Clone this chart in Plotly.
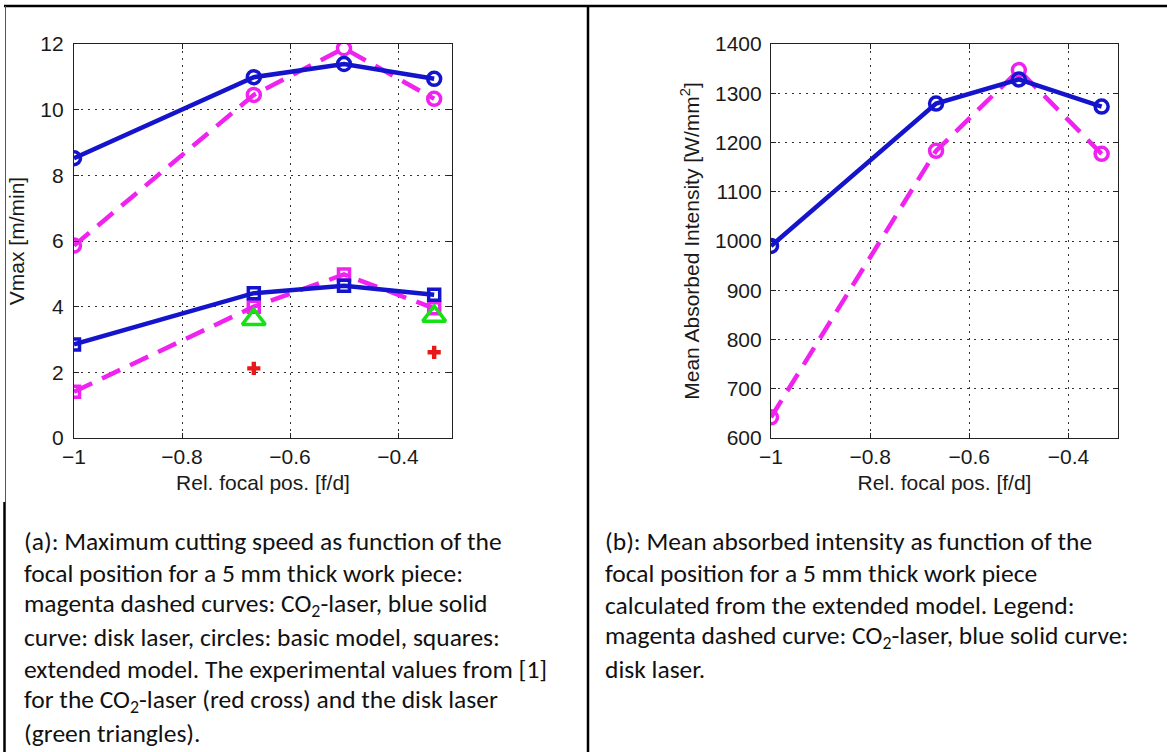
import plotly.graph_objects as go

W, H = 1167, 752

# ---------------- data ----------------
focal_pos = [-1.0, -0.667, -0.5, -0.333]
vmax_co2_basic = [5.86, 10.45, 11.87, 10.33]
vmax_disk_basic = [8.52, 10.99, 11.39, 10.94]
vmax_co2_ext = [1.41, 4.0, 4.98, 3.95]
vmax_disk_ext = [2.85, 4.41, 4.64, 4.36]
exp_pos = [-0.667, -0.333]
exp_disk = [3.61, 3.71]
exp_co2 = [2.12, 2.61]
intensity_co2 = [642, 1183, 1347, 1177]
intensity_disk = [990, 1279, 1328, 1273]

x_ticks = [-1.0, -0.8, -0.6, -0.4]
vmax_ticks = [0, 2, 4, 6, 8, 10, 12]
intensity_ticks = [600, 700, 800, 900, 1000, 1100, 1200, 1300, 1400]

caption_a = [
    "(a): Maximum cutting speed as function of the",
    "focal position for a 5 mm thick work piece:",
    "magenta dashed curves: CO<sub>2</sub>-laser, blue solid",
    "curve: disk laser, circles: basic model, squares:",
    "extended model. The experimental values from [1]",
    "for the CO<sub>2</sub>-laser (red cross) and the disk laser",
    "(green triangles).",
]
caption_b = [
    "(b): Mean absorbed intensity as function of the",
    "focal position for a 5 mm thick work piece",
    "calculated from the extended model. Legend:",
    "magenta dashed curve: CO<sub>2</sub>-laser, blue solid curve:",
    "disk laser.",
]

# ---------------- styles ----------------
BLUE = "#1414cc"
MAGENTA = "#f022f0"
GREEN = "#16e016"
RED = "#e81818"
AX_FONT = dict(family="Liberation Sans, Arial, Helvetica, sans-serif", size=21, color="#1a1a1a")
CAP_FONT = dict(family="Calibri, Carlito, Lato, 'Open Sans', sans-serif", size=25.5, color="#111111")


def px(x):
    return x / W


def py(y):
    return 1 - y / H


fig = go.Figure()


def line_trace(x, y, color, dash, symbol, size, xa, ya):
    return go.Scatter(
        x=x, y=y, mode="lines+markers",
        line=dict(color=color, width=4.5, dash=dash),
        marker=dict(symbol=symbol, size=size, color=color, line=dict(color=color, width=3.5)),
        xaxis=xa, yaxis=ya, showlegend=False, hoverinfo="x+y",
    )


DASH = "20px,11px"
# left panel
fig.add_trace(line_trace(focal_pos, vmax_co2_basic, MAGENTA, DASH, "circle-open", 13, "x", "y"))
fig.add_trace(line_trace(focal_pos, vmax_disk_basic, BLUE, "solid", "circle-open", 13, "x", "y"))
fig.add_trace(line_trace(focal_pos, vmax_co2_ext, MAGENTA, DASH, "square-open", 11, "x", "y"))
fig.add_trace(line_trace(focal_pos, vmax_disk_ext, BLUE, "solid", "square-open", 11, "x", "y"))
fig.add_trace(go.Scatter(
    x=exp_pos, y=exp_disk, mode="markers",
    marker=dict(symbol="triangle-up-open", size=20, color=GREEN, line=dict(color=GREEN, width=3.5)),
    xaxis="x", yaxis="y", showlegend=False))
fig.add_trace(go.Scatter(
    x=exp_pos, y=exp_co2, mode="markers",
    marker=dict(symbol="cross", size=11, color=RED, line=dict(width=0)),
    xaxis="x", yaxis="y", showlegend=False))

# right panel
fig.add_trace(line_trace(focal_pos, intensity_co2, MAGENTA, DASH, "circle-open", 13, "x2", "y2"))
fig.add_trace(line_trace(focal_pos, intensity_disk, BLUE, "solid", "circle-open", 13, "x2", "y2"))

axis_common = dict(
    showline=True, linecolor="#222222", linewidth=1.2, mirror="ticks",
    ticks="inside", ticklen=5, tickcolor="#222222", tickwidth=1,
    showgrid=True, gridcolor="#333333", gridwidth=1, griddash="2px,5px",
    zeroline=False, tickfont=AX_FONT, automargin=False,
)

fig.update_layout(
    width=W, height=H,
    margin=dict(l=0, r=0, t=0, b=0),
    paper_bgcolor="white", plot_bgcolor="white",
    showlegend=False,
    xaxis=dict(domain=[px(74), px(452)], range=[-1, -0.3], tickvals=x_ticks,
               title=dict(text="Rel. focal pos. [f/d]", font=AX_FONT, standoff=8),
               anchor="y", **axis_common),
    yaxis=dict(domain=[py(438), py(44)], range=[0, 12], tickvals=vmax_ticks, ticklabelstandoff=5,
               title=dict(text="Vmax [m/min]", font=AX_FONT, standoff=9),
               anchor="x", **axis_common),
    xaxis2=dict(domain=[px(771), px(1118)], range=[-1, -0.3], tickvals=x_ticks,
                title=dict(text="Rel. focal pos. [f/d]", font=AX_FONT, standoff=8),
                anchor="y2", **axis_common),
    yaxis2=dict(domain=[py(438), py(44)], range=[600, 1400], tickvals=intensity_ticks, ticklabelstandoff=4,
                title=dict(text="Mean Absorbed Intensity [W/mm<sup>2</sup>]", font=AX_FONT, standoff=9),
                anchor="x2", **axis_common),
)

# table borders
shapes = [
    dict(type="line", xref="paper", yref="paper", x0=px(4), x1=px(1167), y0=py(6), y1=py(6),
         line=dict(color="black", width=2.5)),
    dict(type="line", xref="paper", yref="paper", x0=px(5.5), x1=px(5.5), y0=py(6), y1=py(502),
         line=dict(color="#555555", width=1)),
    dict(type="line", xref="paper", yref="paper", x0=px(4.5), x1=px(4.5), y0=py(502), y1=py(752),
         line=dict(color="black", width=2.5)),
    dict(type="line", xref="paper", yref="paper", x0=px(588), x1=px(588), y0=py(6), y1=py(752),
         line=dict(color="black", width=2.5)),
]
fig.update_layout(shapes=shapes)

annotations = []
for i, t in enumerate(caption_a):
    annotations.append(dict(text=t, xref="paper", yref="paper", x=px(22), y=py(541 + 32 * i),
                            xanchor="left", yanchor="middle", showarrow=False, font=CAP_FONT))
for i, t in enumerate(caption_b):
    annotations.append(dict(text=t, xref="paper", yref="paper", x=px(603), y=py(541 + 32 * i),
                            xanchor="left", yanchor="middle", showarrow=False, font=CAP_FONT))
fig.update_layout(annotations=annotations)

fig.write_html("out.html")
